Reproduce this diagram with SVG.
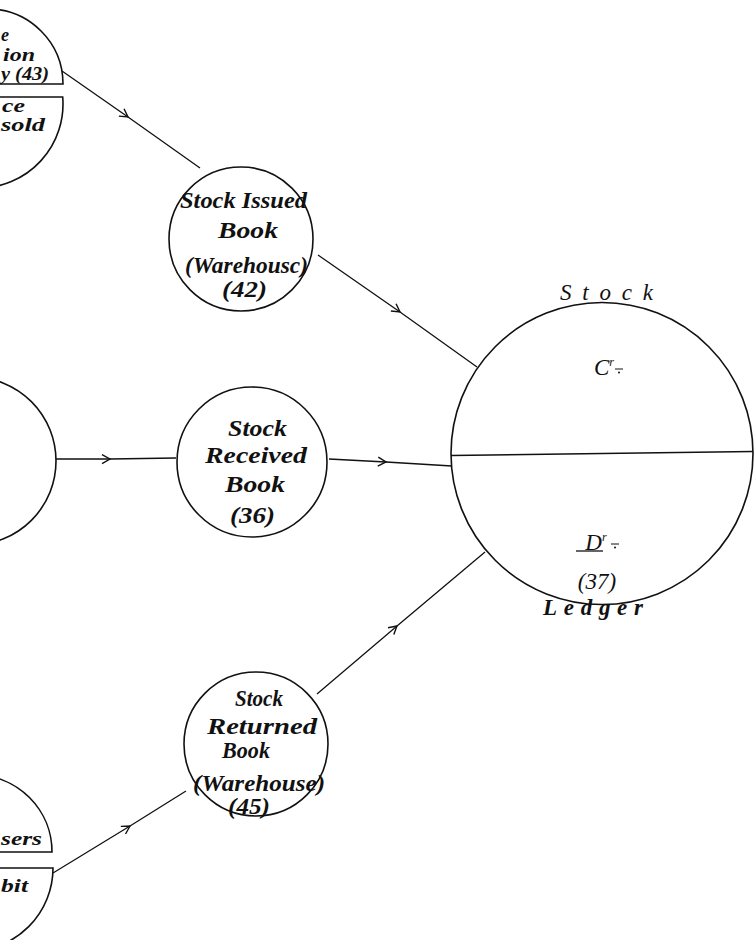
<svg xmlns="http://www.w3.org/2000/svg" width="754" height="940" viewBox="0 0 754 940">
  <defs>
    <style>
      .ring { fill: none; stroke: #111; stroke-width: 1.6; }
      .link { fill: none; stroke: #111; stroke-width: 1.3; marker-mid: url(#chev); }
      .lbl { font-family: "Liberation Serif", "DejaVu Serif", serif; font-style: italic; font-weight: bold; font-size: 23px; fill: #111; text-anchor: middle; }
      .edge { font-family: "Liberation Serif", "DejaVu Serif", serif; font-style: italic; font-weight: bold; font-size: 18px; fill: #111; text-anchor: start; }
      .head { font-family: "Liberation Serif", "DejaVu Serif", serif; font-style: italic; font-size: 23px; fill: #111; text-anchor: middle; }
    </style>
    <marker id="chev" viewBox="-10 -6 12 12" refX="0" refY="0" markerWidth="12" markerHeight="12" markerUnits="userSpaceOnUse" orient="auto">
      <path d="M-8,-4.5 L0,0 L-8,4.5" fill="none" stroke="#111" stroke-width="1.4"/>
    </marker>
  </defs>

  <rect width="754" height="940" fill="#fff"/>

  <!-- connectors -->
  <g id="connectors">
    <path class="link" d="M62,71 L128,117 L200,168"/>
    <path class="link" d="M318,255 L400,312 L477,367"/>
    <path class="link" d="M56,459 L110,459 L176,458"/>
    <path class="link" d="M329,459 L386,462 L452,466"/>
    <path class="link" d="M53,873 L130,826 L186,791"/>
    <path class="link" d="M317,694 L397,626 L485,552"/>
  </g>

  <!-- split book at top left, cut by the page edge -->
  <g id="book-43">
    <path class="ring" d="M-20,84 H63 A75 75 0 0 0 -12 9"/>
    <path class="ring" d="M-25,97 H62.7 A84 84 0 0 1 -21 188"/>
    <text class="edge" x="1" y="41" font-size="15">e</text>
    <text class="edge" x="3" y="61" textLength="32" lengthAdjust="spacingAndGlyphs">ion</text>
    <text class="edge" x="1" y="80" textLength="48" lengthAdjust="spacingAndGlyphs">y (43)</text>
    <text class="edge" x="2" y="112" textLength="23" lengthAdjust="spacingAndGlyphs">ce</text>
    <text class="edge" x="1" y="131" textLength="44" lengthAdjust="spacingAndGlyphs">sold</text>
  </g>

  <!-- book at middle left, cut by the page edge -->
  <g id="book-left">
    <circle class="ring" cx="-28" cy="461" r="84"/>
  </g>

  <!-- split book at bottom left, cut by the page edge -->
  <g id="book-bottom">
    <path class="ring" d="M-30,852 H52 A77 77 0 0 0 -25 775"/>
    <path class="ring" d="M-35,868 H53 A83 83 0 0 1 -30 951"/>
    <text class="edge" x="1" y="845" textLength="41" lengthAdjust="spacingAndGlyphs">sers</text>
    <text class="edge" x="1" y="892" textLength="27" lengthAdjust="spacingAndGlyphs">bit</text>
  </g>

  <g id="stock-issued">
    <circle class="ring" cx="241" cy="239" r="72"/>
    <text class="lbl" x="243.5" y="208" textLength="127" lengthAdjust="spacingAndGlyphs">Stock Issued</text>
    <text class="lbl" x="248" y="238" textLength="60" lengthAdjust="spacingAndGlyphs">Book</text>
    <text class="lbl" x="246.5" y="273" textLength="123" lengthAdjust="spacingAndGlyphs">(Warehousc)</text>
    <text class="lbl" x="244.5" y="297" textLength="45" lengthAdjust="spacingAndGlyphs">(42)</text>
  </g>

  <g id="stock-received">
    <circle class="ring" cx="252" cy="462" r="75"/>
    <text class="lbl" x="257.5" y="436" textLength="59" lengthAdjust="spacingAndGlyphs">Stock</text>
    <text class="lbl" x="256" y="463" textLength="102" lengthAdjust="spacingAndGlyphs">Received</text>
    <text class="lbl" x="255" y="492" textLength="60" lengthAdjust="spacingAndGlyphs">Book</text>
    <text class="lbl" x="252.5" y="523" textLength="45" lengthAdjust="spacingAndGlyphs">(36)</text>
  </g>

  <g id="stock-returned">
    <circle class="ring" cx="256" cy="744" r="72"/>
    <text class="lbl" x="259" y="706" textLength="48" lengthAdjust="spacingAndGlyphs">Stock</text>
    <text class="lbl" x="262" y="734" textLength="110" lengthAdjust="spacingAndGlyphs">Returned</text>
    <text class="lbl" x="246" y="758" textLength="48" lengthAdjust="spacingAndGlyphs">Book</text>
    <text class="lbl" x="259" y="791" textLength="132" lengthAdjust="spacingAndGlyphs">(Warehouse)</text>
    <text class="lbl" x="249" y="814" textLength="42" lengthAdjust="spacingAndGlyphs">(45)</text>
  </g>

  <g id="stock-ledger">
    <circle class="ring" cx="602" cy="453.5" r="151"/>
    <line x1="451" y1="455.5" x2="753" y2="451.5" stroke="#111" stroke-width="1.6"/>
    <text class="head" x="606.5" y="300" textLength="93">Stock</text>
    <text class="head" x="593" y="615" font-weight="bold" textLength="100">Ledger</text>
    <text class="head" x="604" y="375" font-size="24">C<tspan font-size="12" dy="-9">r</tspan></text>
    <line x1="615" y1="369" x2="623" y2="369" stroke="#111" stroke-width="1"/>
    <circle cx="619" cy="372.5" r="1" fill="#111"/>
    <text class="head" x="596" y="550" font-size="24">D<tspan font-size="12" dy="-9">r</tspan></text>
    <line x1="611" y1="544" x2="619" y2="544" stroke="#111" stroke-width="1"/>
    <circle cx="615" cy="547.5" r="1" fill="#111"/>
    <line x1="576" y1="551" x2="603" y2="551" stroke="#111" stroke-width="1.3"/>
    <text class="head" x="597" y="589" font-size="24">(37)</text>
  </g>
</svg>
